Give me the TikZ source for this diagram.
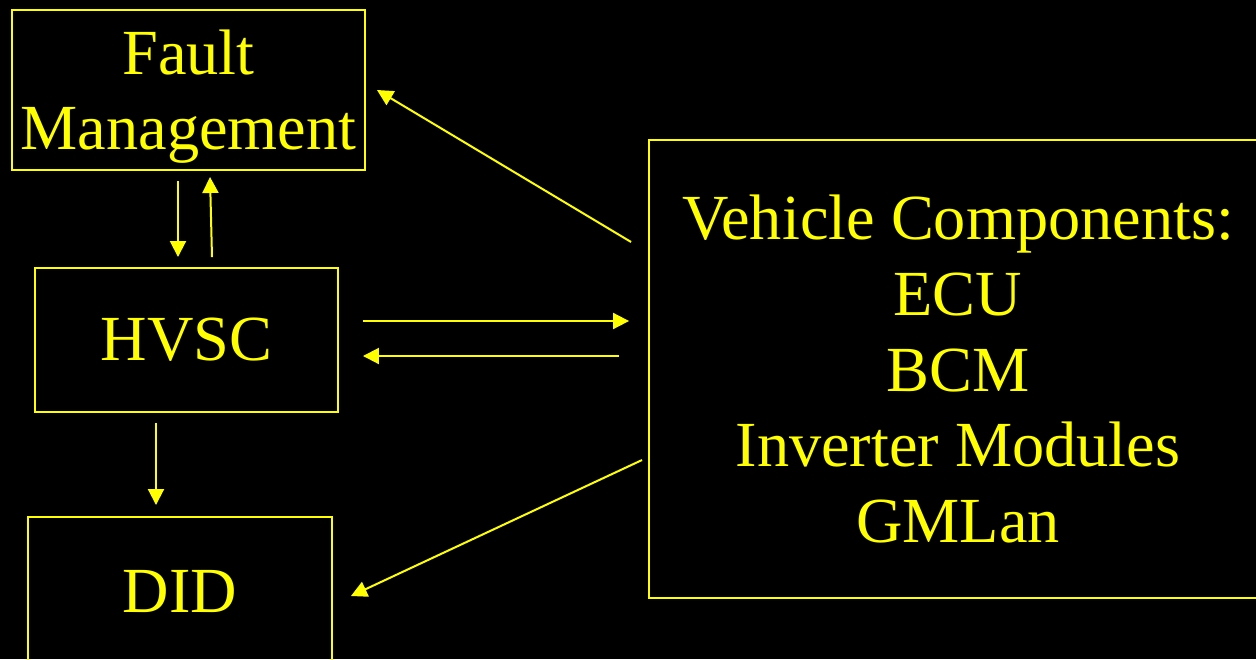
\documentclass[tikz,border=0pt]{standalone}
\usepackage{fontspec}
\setmainfont{Liberation Serif}
\usetikzlibrary{arrows.meta, calc}
\definecolor{slideyellow}{RGB}{255,255,0}

\begin{document}
\begin{tikzpicture}[x=0.02cm, y=-0.02cm, line width=0.04cm, draw=slideyellow]
    \tikzstyle{block}=[rectangle, draw=slideyellow, text=slideyellow, align=center,
        inner sep=0pt, font=\fontsize{36.6}{42.7}\selectfont]
    \tikzstyle{flow}=[draw=slideyellow, -{Triangle[length=0.32cm, width=0.32cm]}]

    % Background of the slide
    \fill[black] (0,0) rectangle (1256,659);
    \useasboundingbox (0,0) rectangle (1256,659);

    % Draw the boxes
    \node[block, minimum width=7.06cm, minimum height=3.2cm, text depth=0pt] (fault) at (188.5,90) {Fault\\Management};
    \node[block, minimum width=6.06cm, minimum height=2.88cm] (hvsc) at (186.5,340) {HVSC};
    \node[block, minimum width=6.08cm, minimum height=2.96cm] (did) at (180,591) {DID};
    \node[block, minimum width=12.36cm, minimum height=9.16cm,
        font=\fontsize{36.6}{43.2}\selectfont] (vehicle) at (958,369)
        {Vehicle Components:\\ECU\\BCM\\Inverter Modules\\GMLan};

    % Fault management and HVSC
    \draw[flow] ($(fault.south)+(-10.5,10)$) -- ($(hvsc.north)+(-8.5,-10)$);
    \draw[flow] ($(hvsc.north)+(25.5,-10)$) -- ($(fault.south)+(21.5,6)$);

    % HVSC and vehicle components
    \draw[flow] ($(hvsc.east)+(24,-19)$) -- ($(vehicle.west)+(-19,-48)$);
    \draw[flow] ($(vehicle.west)+(-29,-13)$) -- ($(hvsc.east)+(24,16)$);

    % HVSC to DID
    \draw[flow] ($(hvsc.south)+(-30.5,10)$) -- ($(did.north)+(-24,-11)$);

    % Vehicle components to fault management and DID
    \draw[flow] ($(vehicle.west)+(-17,-127)$) -- ($(fault.east)+(11,0)$);
    \draw[flow] ($(vehicle.west)+(-6,91)$) -- ($(did.east)+(18,5)$);
\end{tikzpicture}
\end{document}
